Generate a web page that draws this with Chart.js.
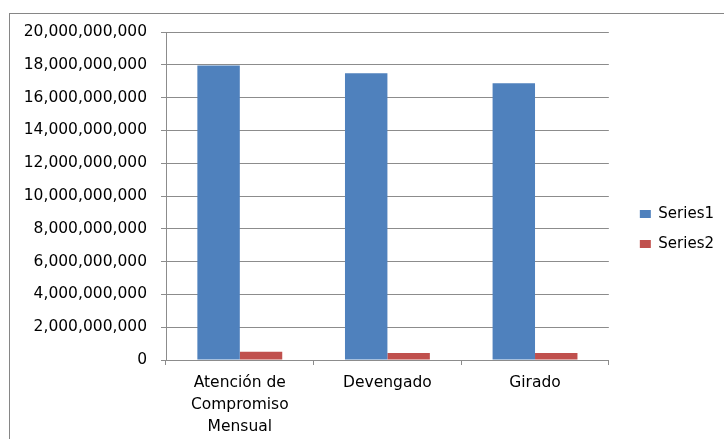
<!DOCTYPE html>
<html>
<head>
<meta charset="utf-8">
<script src="https://cdn.jsdelivr.net/npm/chart.js@4/dist/chart.umd.min.js"></script>
<style>
  html, body { margin: 0; padding: 0; background: #fff; overflow: hidden; }
  #wrap { position: relative; width: 724px; height: 439px; }
  #frame {
    position: absolute; left: 9px; top: 13px; width: 730px; height: 440px;
    border-left: 1px solid #868686; border-top: 1px solid #868686;
    pointer-events: none;
  }
</style>
</head>
<body>
<div id="wrap">
  <canvas id="chart" width="724" height="439"></canvas>
  <div id="frame"></div>
</div>
<script>
// ─ Data ──────────────────────────────────────────────────────────────────────
const categories = [['Atención de', 'Compromiso', 'Mensual'], 'Devengado', 'Girado'];
const series1    = [17950000000, 17480000000, 16870000000];
const series2    = [510000000, 430000000, 430000000];
const yTicks     = { min: 0, max: 20000000000, step: 2000000000 };

// ─ Style ─────────────────────────────────────────────────────────────────────
const S1_COLOR   = '#4F81BD';
const S2_COLOR   = '#C0504D';
const GRID_COLOR = '#8c8c8c';
const FONT       = 'DejaVu Sans';

Chart.defaults.color       = '#000';
Chart.defaults.font.family = FONT;
Chart.defaults.font.size   = 15;

// invisible scale used only as a spacer
const spacer = (size) => ({
  type: 'linear',
  grid: { display: false },
  border: { display: false },
  ticks: { display: false },
  afterFit: (s) => { if (s.isHorizontal()) s.height = size; else s.width = size; }
});

new Chart(document.getElementById('chart').getContext('2d'), {
  type: 'bar',
  data: {
    labels: categories,
    datasets: [
      { label: 'Series1', data: series1, backgroundColor: S1_COLOR, borderWidth: 0 },
      { label: 'Series2', data: series2, backgroundColor: S2_COLOR, borderWidth: 0 },
    ]
  },
  options: {
    responsive: false,
    animation: false,
    categoryPercentage: 0.575,
    barPercentage: 1,
    layout: { padding: { left: 0, top: 19, right: 0, bottom: 0 } },
    plugins: {
      tooltip: { enabled: false },
      legend: {
        position: 'right',
        labels: { boxWidth: 11, boxHeight: 8, padding: 15, font: { size: 15 } }
      }
    },
    scales: {
      x: {
        grid: { drawOnChartArea: false, drawTicks: true, tickLength: 5, color: GRID_COLOR },
        border: { color: GRID_COLOR },
        ticks: { padding: 7, maxRotation: 0, font: { size: 15.5, lineHeight: 22 / 15.5 } },
        afterFit: (s) => { s.height = 79; }
      },
      y: {
        min: yTicks.min,
        max: yTicks.max,
        grid: { color: GRID_COLOR, tickLength: 5 },
        border: { color: GRID_COLOR },
        ticks: {
          stepSize: yTicks.step,
          padding: 14,
          font: { size: 15.5 },
          callback: (v) => Number(v).toLocaleString('en-US')
        },
        afterFit: (s) => { s.width = 166; }
      },
      xt: Object.assign(spacer(13), { position: 'top' }),
      yr: Object.assign(spacer(16), { position: 'right' })
    }
  }
});
</script>
</body>
</html>
